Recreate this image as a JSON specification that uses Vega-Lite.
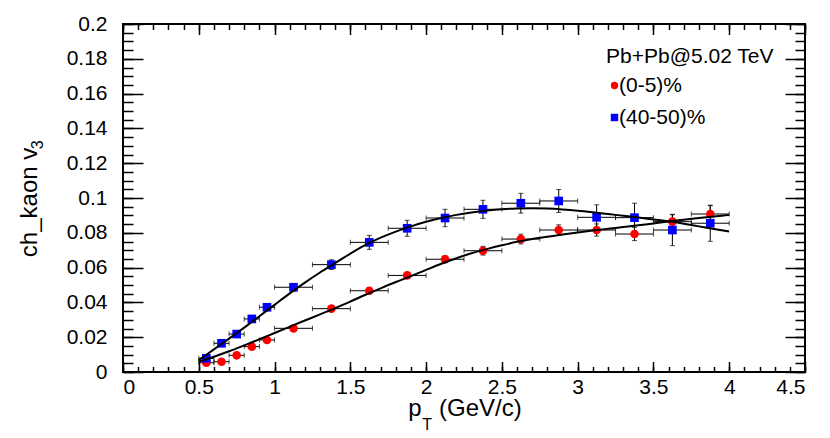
{
  "$schema": "https://vega.github.io/schema/vega-lite/v6.json",
  "width": 682,
  "height": 348,
  "autosize": {"type": "none"},
  "padding": {"left": 123, "top": 24, "right": 25, "bottom": 66},
  "background": "white",
  "config": {
    "view": {"stroke": "black", "strokeWidth": 2},
    "axis": {
      "grid": false,
      "domain": false,
      "labelFont": "Liberation Sans",
      "labelFontSize": 21,
      "labelColor": "black",
      "tickColor": "black",
      "tickWidth": 1.5
    },
    "text": {"font": "Liberation Sans", "color": "black"}
  },
  "datasets": {
    "pts": [
      {"s": "(0-5)%", "pt": 0.55, "dx": 0.05, "v": 0.0053, "dv": 0.0008},
      {"s": "(0-5)%", "pt": 0.65, "dx": 0.05, "v": 0.0059, "dv": 0.0008},
      {"s": "(0-5)%", "pt": 0.75, "dx": 0.05, "v": 0.0096, "dv": 0.0008},
      {"s": "(0-5)%", "pt": 0.85, "dx": 0.05, "v": 0.0146, "dv": 0.001},
      {"s": "(0-5)%", "pt": 0.95, "dx": 0.05, "v": 0.0184, "dv": 0.001},
      {"s": "(0-5)%", "pt": 1.125, "dx": 0.125, "v": 0.0251, "dv": 0.0012},
      {"s": "(0-5)%", "pt": 1.375, "dx": 0.125, "v": 0.0364, "dv": 0.0013},
      {"s": "(0-5)%", "pt": 1.625, "dx": 0.125, "v": 0.0467, "dv": 0.0015},
      {"s": "(0-5)%", "pt": 1.875, "dx": 0.125, "v": 0.0555, "dv": 0.0017},
      {"s": "(0-5)%", "pt": 2.125, "dx": 0.125, "v": 0.0648, "dv": 0.002},
      {"s": "(0-5)%", "pt": 2.375, "dx": 0.125, "v": 0.0697, "dv": 0.0025},
      {"s": "(0-5)%", "pt": 2.625, "dx": 0.125, "v": 0.0764, "dv": 0.0028},
      {"s": "(0-5)%", "pt": 2.875, "dx": 0.125, "v": 0.0816, "dv": 0.003},
      {"s": "(0-5)%", "pt": 3.125, "dx": 0.125, "v": 0.0816, "dv": 0.0035},
      {"s": "(0-5)%", "pt": 3.375, "dx": 0.125, "v": 0.0793, "dv": 0.0038},
      {"s": "(0-5)%", "pt": 3.625, "dx": 0.125, "v": 0.0864, "dv": 0.004},
      {"s": "(0-5)%", "pt": 3.875, "dx": 0.125, "v": 0.0908, "dv": 0.0048},
      {"s": "(40-50)%", "pt": 0.55, "dx": 0.05, "v": 0.0079, "dv": 0.001},
      {"s": "(40-50)%", "pt": 0.65, "dx": 0.05, "v": 0.0165, "dv": 0.001},
      {"s": "(40-50)%", "pt": 0.75, "dx": 0.05, "v": 0.0218, "dv": 0.0012},
      {"s": "(40-50)%", "pt": 0.85, "dx": 0.05, "v": 0.0305, "dv": 0.0013},
      {"s": "(40-50)%", "pt": 0.95, "dx": 0.05, "v": 0.0372, "dv": 0.0015},
      {"s": "(40-50)%", "pt": 1.125, "dx": 0.125, "v": 0.0487, "dv": 0.0022},
      {"s": "(40-50)%", "pt": 1.375, "dx": 0.125, "v": 0.0617, "dv": 0.0028},
      {"s": "(40-50)%", "pt": 1.625, "dx": 0.125, "v": 0.0745, "dv": 0.004},
      {"s": "(40-50)%", "pt": 1.875, "dx": 0.125, "v": 0.0826, "dv": 0.0046},
      {"s": "(40-50)%", "pt": 2.125, "dx": 0.125, "v": 0.0885, "dv": 0.005},
      {"s": "(40-50)%", "pt": 2.375, "dx": 0.125, "v": 0.0935, "dv": 0.0052},
      {"s": "(40-50)%", "pt": 2.625, "dx": 0.125, "v": 0.097, "dv": 0.0057},
      {"s": "(40-50)%", "pt": 2.875, "dx": 0.125, "v": 0.0983, "dv": 0.0066},
      {"s": "(40-50)%", "pt": 3.125, "dx": 0.125, "v": 0.0889, "dv": 0.0072},
      {"s": "(40-50)%", "pt": 3.375, "dx": 0.125, "v": 0.0887, "dv": 0.0083},
      {"s": "(40-50)%", "pt": 3.625, "dx": 0.125, "v": 0.0816, "dv": 0.009},
      {"s": "(40-50)%", "pt": 3.875, "dx": 0.125, "v": 0.0855, "dv": 0.0104}
    ],
    "fits": [
      {"s": "blue", "pt": 0.5, "v": 0.0068}, {"s": "blue", "pt": 0.6, "v": 0.013},
      {"s": "blue", "pt": 0.7, "v": 0.0192}, {"s": "blue", "pt": 0.8, "v": 0.0255},
      {"s": "blue", "pt": 0.9, "v": 0.032}, {"s": "blue", "pt": 1.0, "v": 0.0386},
      {"s": "blue", "pt": 1.1, "v": 0.0452}, {"s": "blue", "pt": 1.2, "v": 0.0514},
      {"s": "blue", "pt": 1.3, "v": 0.0572}, {"s": "blue", "pt": 1.4, "v": 0.0626},
      {"s": "blue", "pt": 1.5, "v": 0.068}, {"s": "blue", "pt": 1.6, "v": 0.073},
      {"s": "blue", "pt": 1.7, "v": 0.0772}, {"s": "blue", "pt": 1.8, "v": 0.0807},
      {"s": "blue", "pt": 1.9, "v": 0.0837}, {"s": "blue", "pt": 2.0, "v": 0.0863},
      {"s": "blue", "pt": 2.1, "v": 0.0885}, {"s": "blue", "pt": 2.2, "v": 0.0903},
      {"s": "blue", "pt": 2.3, "v": 0.0917}, {"s": "blue", "pt": 2.4, "v": 0.0928},
      {"s": "blue", "pt": 2.5, "v": 0.0936}, {"s": "blue", "pt": 2.6, "v": 0.094},
      {"s": "blue", "pt": 2.7, "v": 0.0941}, {"s": "blue", "pt": 2.8, "v": 0.0939},
      {"s": "blue", "pt": 2.9, "v": 0.0934}, {"s": "blue", "pt": 3.0, "v": 0.0927},
      {"s": "blue", "pt": 3.1, "v": 0.0918}, {"s": "blue", "pt": 3.2, "v": 0.0908},
      {"s": "blue", "pt": 3.3, "v": 0.0898}, {"s": "blue", "pt": 3.4, "v": 0.0888},
      {"s": "blue", "pt": 3.5, "v": 0.0877}, {"s": "blue", "pt": 3.6, "v": 0.0866},
      {"s": "blue", "pt": 3.7, "v": 0.0852}, {"s": "blue", "pt": 3.8, "v": 0.0837},
      {"s": "blue", "pt": 3.9, "v": 0.0822}, {"s": "blue", "pt": 4.0, "v": 0.0808},
      {"s": "red", "pt": 0.5, "v": 0.006}, {"s": "red", "pt": 0.6, "v": 0.0088},
      {"s": "red", "pt": 0.7, "v": 0.0119}, {"s": "red", "pt": 0.8, "v": 0.0153},
      {"s": "red", "pt": 0.9, "v": 0.0188}, {"s": "red", "pt": 1.0, "v": 0.0224},
      {"s": "red", "pt": 1.1, "v": 0.026}, {"s": "red", "pt": 1.2, "v": 0.0296},
      {"s": "red", "pt": 1.3, "v": 0.0331}, {"s": "red", "pt": 1.4, "v": 0.0367},
      {"s": "red", "pt": 1.5, "v": 0.0405}, {"s": "red", "pt": 1.6, "v": 0.0444},
      {"s": "red", "pt": 1.7, "v": 0.0481}, {"s": "red", "pt": 1.8, "v": 0.0517},
      {"s": "red", "pt": 1.9, "v": 0.0551}, {"s": "red", "pt": 2.0, "v": 0.0587},
      {"s": "red", "pt": 2.1, "v": 0.0622}, {"s": "red", "pt": 2.2, "v": 0.0654},
      {"s": "red", "pt": 2.3, "v": 0.0682}, {"s": "red", "pt": 2.4, "v": 0.0706},
      {"s": "red", "pt": 2.5, "v": 0.0728}, {"s": "red", "pt": 2.6, "v": 0.0748},
      {"s": "red", "pt": 2.7, "v": 0.0764}, {"s": "red", "pt": 2.8, "v": 0.0777},
      {"s": "red", "pt": 2.9, "v": 0.079}, {"s": "red", "pt": 3.0, "v": 0.0802},
      {"s": "red", "pt": 3.1, "v": 0.0813}, {"s": "red", "pt": 3.2, "v": 0.0823},
      {"s": "red", "pt": 3.3, "v": 0.0833}, {"s": "red", "pt": 3.4, "v": 0.0843},
      {"s": "red", "pt": 3.5, "v": 0.0854}, {"s": "red", "pt": 3.6, "v": 0.0865},
      {"s": "red", "pt": 3.7, "v": 0.0875}, {"s": "red", "pt": 3.8, "v": 0.0885},
      {"s": "red", "pt": 3.9, "v": 0.0894}, {"s": "red", "pt": 4.0, "v": 0.0903}
    ],
    "xtitle": [
      {"pt": 1.882, "v": -0.0255, "t": "p"},
      {"pt": 2.085, "v": -0.0255, "t": "(GeV/c)"}
    ],
    "xsub": [{"pt": 1.975, "v": -0.0335, "t": "T"}],
    "ytitle": [{"pt": -0.567, "v": 0.066, "t": "ch_kaon v"}],
    "ysub": [{"pt": -0.53, "v": 0.128, "t": "3"}]
  },
  "layer": [
    {
      "data": {"name": "pts"},
      "mark": {"type": "errorbar", "color": "black", "ticks": {"size": 5, "thickness": 1, "color": "black"}, "rule": {"strokeWidth": 1, "color": "black"}},
      "encoding": {
        "x": {"field": "pt", "type": "quantitative", "scale": {"domain": [0, 4.5], "nice": false, "zero": false},
              "axis": {"orient": "bottom", "title": null, "values": [0, 0.5, 1, 1.5, 2, 2.5, 3, 3.5, 4, 4.5], "format": ".1~f", "ticks": false, "labelPadding": 4}},
        "xError": {"field": "dx"},
        "y": {"field": "v", "type": "quantitative", "scale": {"domain": [0, 0.2], "nice": false, "zero": false},
              "axis": {"orient": "left", "title": null, "values": [0, 0.02, 0.04, 0.06, 0.08, 0.1, 0.12, 0.14, 0.16, 0.18, 0.2], "format": ".2~f", "ticks": false, "labelPadding": 16}}
      }
    },
    {
      "data": {"name": "pts"},
      "mark": {"type": "errorbar", "color": "black", "ticks": {"size": 5, "thickness": 1, "color": "black"}, "rule": {"strokeWidth": 1, "color": "black"}},
      "encoding": {
        "x": {"field": "pt", "type": "quantitative",
              "axis": {"orient": "bottom", "title": null, "values": [0, 0.5, 1, 1.5, 2, 2.5, 3, 3.5, 4, 4.5], "labels": false, "tickSize": -10.5}},
        "y": {"field": "v", "type": "quantitative",
              "axis": {"orient": "left", "title": null, "values": [0, 0.02, 0.04, 0.06, 0.08, 0.1, 0.12, 0.14, 0.16, 0.18, 0.2], "labels": false, "tickSize": -20}},
        "yError": {"field": "dv"}
      }
    },
    {
      "data": {"name": "pts"},
      "mark": {"type": "point", "filled": true, "opacity": 1, "size": 75},
      "encoding": {
        "x": {"field": "pt", "type": "quantitative",
              "axis": {"orient": "bottom", "title": null, "values": [0, 0.1, 0.2, 0.3, 0.4, 0.5, 0.6, 0.7, 0.8, 0.9, 1, 1.1, 1.2, 1.3, 1.4, 1.5, 1.6, 1.7, 1.8, 1.9, 2, 2.1, 2.2, 2.3, 2.4, 2.5, 2.6, 2.7, 2.8, 2.9, 3, 3.1, 3.2, 3.3, 3.4, 3.5, 3.6, 3.7, 3.8, 3.9, 4, 4.1, 4.2, 4.3, 4.4, 4.5], "labels": false, "tickSize": -5.5}},
        "y": {"field": "v", "type": "quantitative",
              "axis": {"orient": "left", "title": null, "values": [0, 0.005, 0.01, 0.015, 0.02, 0.025, 0.03, 0.035, 0.04, 0.045, 0.05, 0.055, 0.06, 0.065, 0.07, 0.075, 0.08, 0.085, 0.09, 0.095, 0.1, 0.105, 0.11, 0.115, 0.12, 0.125, 0.13, 0.135, 0.14, 0.145, 0.15, 0.155, 0.16, 0.165, 0.17, 0.175, 0.18, 0.185, 0.19, 0.195, 0.2], "labels": false, "tickSize": -10}},
        "color": {"field": "s", "type": "nominal", "scale": {"domain": ["(0-5)%", "(40-50)%"], "range": ["#ff0000", "#0000ff"]},
                  "legend": {"title": "Pb+Pb@5.02 TeV", "orient": "none", "legendX": 483, "legendY": 22, "padding": 0, "titleFont": "Liberation Sans", "titleFontSize": 21, "titleFontWeight": "normal", "titleColor": "black", "titlePadding": 8, "titleLimit": 400, "labelFont": "Liberation Sans", "labelFontSize": 21, "labelColor": "black", "labelOffset": -6, "labelLimit": 400, "symbolSize": 55, "symbolStrokeWidth": 0, "symbolOffset": -2, "rowPadding": 10}},
        "shape": {"field": "s", "type": "nominal", "scale": {"domain": ["(0-5)%", "(40-50)%"], "range": ["circle", "square"]},
                  "legend": {"title": "Pb+Pb@5.02 TeV", "orient": "none", "legendX": 483, "legendY": 22, "padding": 0, "titleFont": "Liberation Sans", "titleFontSize": 21, "titleFontWeight": "normal", "titleColor": "black", "titlePadding": 8, "titleLimit": 400, "labelFont": "Liberation Sans", "labelFontSize": 21, "labelColor": "black", "labelOffset": -6, "labelLimit": 400, "symbolSize": 55, "symbolStrokeWidth": 0, "symbolOffset": -2, "rowPadding": 10}}
      }
    },
    {
      "data": {"name": "fits"},
      "mark": {"type": "line", "color": "black", "strokeWidth": 2, "interpolate": "monotone"},
      "encoding": {
        "x": {"field": "pt", "type": "quantitative",
              "axis": {"orient": "top", "title": null, "values": [0, 0.5, 1, 1.5, 2, 2.5, 3, 3.5, 4, 4.5], "labels": false, "tickSize": -10.5}},
        "y": {"field": "v", "type": "quantitative",
              "axis": {"orient": "right", "title": null, "values": [0, 0.02, 0.04, 0.06, 0.08, 0.1, 0.12, 0.14, 0.16, 0.18, 0.2], "labels": false, "tickSize": -20}},
        "detail": {"field": "s", "type": "nominal"}
      }
    },
    {
      "data": {"name": "xtitle"},
      "mark": {"type": "text", "fontSize": 24, "align": "left", "baseline": "alphabetic"},
      "encoding": {
        "x": {"field": "pt", "type": "quantitative",
              "axis": {"orient": "top", "title": null, "values": [0, 0.1, 0.2, 0.3, 0.4, 0.5, 0.6, 0.7, 0.8, 0.9, 1, 1.1, 1.2, 1.3, 1.4, 1.5, 1.6, 1.7, 1.8, 1.9, 2, 2.1, 2.2, 2.3, 2.4, 2.5, 2.6, 2.7, 2.8, 2.9, 3, 3.1, 3.2, 3.3, 3.4, 3.5, 3.6, 3.7, 3.8, 3.9, 4, 4.1, 4.2, 4.3, 4.4, 4.5], "labels": false, "tickSize": -5.5}},
        "y": {"field": "v", "type": "quantitative",
              "axis": {"orient": "right", "title": null, "values": [0, 0.005, 0.01, 0.015, 0.02, 0.025, 0.03, 0.035, 0.04, 0.045, 0.05, 0.055, 0.06, 0.065, 0.07, 0.075, 0.08, 0.085, 0.09, 0.095, 0.1, 0.105, 0.11, 0.115, 0.12, 0.125, 0.13, 0.135, 0.14, 0.145, 0.15, 0.155, 0.16, 0.165, 0.17, 0.175, 0.18, 0.185, 0.19, 0.195, 0.2], "labels": false, "tickSize": -10}},
        "text": {"field": "t"}
      }
    },
    {
      "data": {"name": "xsub"},
      "mark": {"type": "text", "fontSize": 16, "align": "left", "baseline": "alphabetic"},
      "encoding": {
        "x": {"field": "pt", "type": "quantitative", "axis": null},
        "y": {"field": "v", "type": "quantitative", "axis": null},
        "text": {"field": "t"}
      }
    },
    {
      "data": {"name": "ytitle"},
      "mark": {"type": "text", "fontSize": 24, "align": "left", "baseline": "alphabetic", "angle": 270},
      "encoding": {
        "x": {"field": "pt", "type": "quantitative", "axis": null},
        "y": {"field": "v", "type": "quantitative", "axis": null},
        "text": {"field": "t"}
      }
    },
    {
      "data": {"name": "ysub"},
      "mark": {"type": "text", "fontSize": 16, "align": "left", "baseline": "alphabetic", "angle": 270},
      "encoding": {
        "x": {"field": "pt", "type": "quantitative", "axis": null},
        "y": {"field": "v", "type": "quantitative", "axis": null},
        "text": {"field": "t"}
      }
    }
  ],
  "resolve": {"axis": {"x": "independent", "y": "independent"}}
}
